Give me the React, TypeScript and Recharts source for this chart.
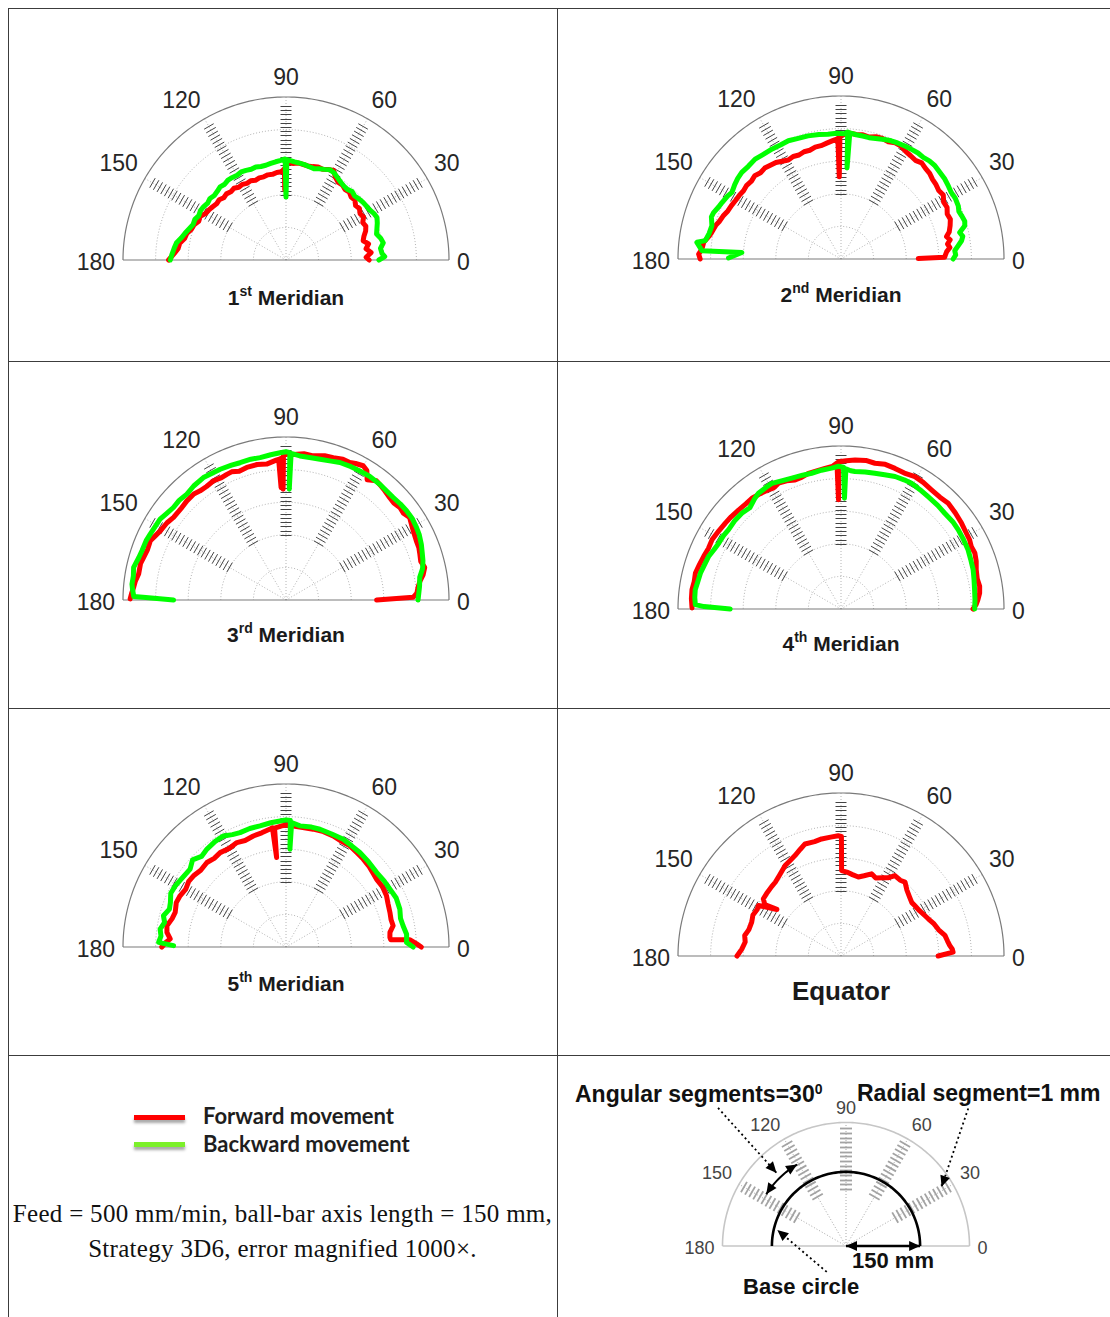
import React from "react";
import { ScatterChart, Scatter, XAxis, YAxis } from "recharts";

// every trace point is [angle in degrees, radius in ring units]; the outer ring is 5
type Polar = [number, number];

const angleTicks = [0, 30, 60, 90, 120, 150, 180];
const tickSpokes = [30, 60, 90, 120, 150];
const ringRadii = [1, 2, 3, 4];
const outerRadius = 5;
const baseCircleRadius = 3;

const meridian1Forward: Polar[] = [
  [180, 3.6], [177, 3.45], [174, 3.33], [171, 3.3], [168, 3.18], [165, 3.15], [162, 3.05],
  [159, 3.02], [156, 2.93], [153, 2.95], [150, 2.85], [147, 2.82], [144, 2.78], [141, 2.74],
  [138, 2.76], [135, 2.7], [132, 2.73], [129, 2.69], [126, 2.72], [123, 2.66], [120, 2.68],
  [117, 2.64], [114, 2.66], [111, 2.62], [108, 2.65], [105, 2.64], [102, 2.67], [99, 2.66],
  [96, 2.7], [93, 2.71], [91, 2.8], [91, 2.15], [90.5, 2.8], [89, 3.0], [86, 2.97], [83, 3.0],
  [80, 2.98], [77, 2.96], [74, 2.98], [71, 3.02], [68, 3.0], [65, 3.06], [62, 3.11], [59, 2.95],
  [56, 2.87], [53, 2.88], [50, 2.82], [47, 2.85], [44, 2.78], [41, 2.8], [38, 2.71], [35, 2.75],
  [32, 2.68], [29, 2.72], [26, 2.62], [23, 2.66], [20, 2.6], [17, 2.5], [14, 2.44], [11, 2.58],
  [8, 2.48], [5, 2.62], [2, 2.46], [0, 2.55],
];
const meridian1Backward: Polar[] = [
  [180, 3.55], [177, 3.5], [174, 3.45], [171, 3.4], [168, 3.28], [165, 3.2], [162, 3.12],
  [159, 3.05], [156, 3.06], [153, 3.0], [150, 3.03], [147, 3.01], [144, 2.97], [141, 3.0],
  [138, 2.96], [135, 2.98], [132, 3.02], [129, 2.99], [126, 3.03], [123, 3.02], [120, 3.0],
  [117, 3.03], [114, 3.01], [111, 2.98], [108, 3.0], [105, 2.97], [102, 2.97], [99, 3.0],
  [96, 3.03], [93, 3.06], [90.5, 3.1], [90, 1.93], [89.5, 3.08], [88, 3.06], [85, 3.02],
  [82, 3.0], [79, 2.98], [76, 2.95], [73, 2.93], [70, 2.98], [67, 3.02], [64, 3.08], [61, 3.05],
  [58, 2.98], [55, 2.92], [52, 2.88], [49, 2.87], [46, 2.92], [43, 2.88], [40, 2.92], [37, 2.95],
  [34, 2.97], [31, 2.99], [28, 3.05], [25, 3.08], [22, 3.02], [19, 2.95], [16, 2.89], [13, 2.98],
  [10, 3.03], [7, 2.92], [4, 2.95], [2, 3.03], [0, 2.85],
];

const meridian2Forward: Polar[] = [
  [180, 4.32], [178, 4.37], [176, 4.28], [173, 4.24], [170, 4.1], [168, 4.04], [165, 3.98],
  [163, 3.91], [160, 3.85], [157, 3.77], [154, 3.74], [151, 3.7], [148, 3.68], [145, 3.65],
  [142, 3.67], [139, 3.64], [136, 3.68], [133, 3.62], [130, 3.64], [127, 3.6], [124, 3.57],
  [121, 3.5], [118, 3.44], [115, 3.47], [112, 3.44], [109, 3.48], [106, 3.47], [103, 3.52],
  [100, 3.53], [97, 3.58], [94, 3.64], [92, 3.68], [91.5, 3.7], [91.2, 2.52], [90.5, 3.75],
  [88, 3.84], [86, 3.87], [83, 3.85], [80, 3.87], [77, 3.84], [74, 3.9], [71, 3.91], [68, 3.88],
  [65, 3.93], [62, 3.92], [59, 3.85], [56, 3.82], [53, 3.79], [50, 3.85], [47, 3.8], [44, 3.78],
  [41, 3.72], [38, 3.7], [35, 3.66], [32, 3.7], [29, 3.6], [26, 3.62], [23, 3.54], [20, 3.57],
  [17, 3.5], [14, 3.42], [12, 3.31], [10, 3.4], [8, 3.3], [6, 3.36], [4, 3.25], [2, 3.2],
  [1, 3.18], [0.3, 2.37],
];
const meridian2Backward: Polar[] = [
  [179.5, 3.45], [176.2, 3.05], [176.6, 4.27], [173.4, 4.45], [172.3, 4.2], [169, 4.12],
  [165.5, 4.09], [162, 4.18], [160, 4.16], [157, 4.08], [154.6, 4.04], [151, 3.98], [148.6, 3.92],
  [145, 3.98], [142, 4.02], [138.9, 4.04], [135, 4.02], [130.7, 4.04], [127, 4.0], [122, 3.98],
  [118, 3.96], [114, 3.97], [110, 3.93], [105, 3.91], [100, 3.88], [96, 3.85], [92, 3.86],
  [88.5, 3.84], [87, 3.9], [86.2, 2.8], [86, 3.88], [83, 3.84], [80, 3.83], [77, 3.82], [73, 3.86],
  [70, 3.9], [67, 3.94], [64, 3.96], [60.5, 3.98], [57, 4.0], [54, 4.02], [51, 4.01], [48, 4.05],
  [44.8, 4.06], [41, 4.03], [37.6, 4.02], [34, 3.98], [31, 3.95], [28, 3.97], [24.4, 3.95],
  [22, 3.9], [19.8, 3.93], [17, 3.97], [15, 3.93], [12.6, 3.73], [10.5, 3.8], [8.6, 3.74],
  [6.5, 3.62], [4.2, 3.5], [2, 3.52], [0, 3.44],
];

const meridian3Forward: Polar[] = [
  [0, 2.78], [1.2, 3.9], [3, 4.02], [5.5, 4.07], [8, 4.15], [10.5, 4.28], [13.2, 4.37], [16, 4.3],
  [18.9, 4.34], [21.5, 4.38], [24.4, 4.39], [27, 4.42], [30, 4.47], [33.7, 4.56], [36.5, 4.48],
  [39.1, 4.5], [42, 4.45], [44.6, 4.47], [48, 4.52], [50, 4.55], [52.8, 4.59], [56, 4.45],
  [58, 4.68], [60.1, 4.75], [63, 4.7], [65.1, 4.65], [68, 4.66], [71.6, 4.6], [75, 4.58],
  [79.3, 4.5], [83, 4.52], [87.1, 4.47], [89, 4.48], [91, 4.45], [91.5, 3.4], [92, 4.35],
  [92.5, 3.45], [93, 4.32], [94, 4.3], [98.1, 4.21], [102, 4.25], [106.5, 4.24], [110, 4.2],
  [113, 4.27], [115.2, 4.26], [118, 4.24], [121.3, 4.28], [125, 4.25], [128.2, 4.26], [131, 4.31],
  [135, 4.3], [139, 4.27], [143.7, 4.28], [147, 4.35], [151.2, 4.4], [154, 4.47], [156.4, 4.54],
  [160, 4.52], [163.4, 4.56], [166, 4.6], [170, 4.59], [173, 4.66], [175.3, 4.69], [177.5, 4.74],
  [179.6, 4.78],
];
const meridian3Backward: Polar[] = [
  [180, 3.45], [179, 4.3], [178.7, 4.67], [176, 4.72], [174.1, 4.75], [171, 4.74], [167.9, 4.78],
  [164, 4.7], [161.1, 4.67], [157, 4.66], [154.1, 4.63], [150, 4.6], [147.3, 4.59], [144, 4.52],
  [140.6, 4.47], [137, 4.48], [133.1, 4.45], [129, 4.5], [124, 4.53], [120, 4.5], [116.7, 4.49],
  [112, 4.46], [108.5, 4.44], [104, 4.45], [100.3, 4.44], [96, 4.48], [92.3, 4.52], [90, 4.55],
  [88.5, 4.52], [88.3, 3.4], [88, 4.5], [84.5, 4.44], [80, 4.43], [76.4, 4.44], [72, 4.48],
  [68.6, 4.53], [64, 4.55], [60.2, 4.56], [56, 4.58], [51, 4.57], [47, 4.55], [43.7, 4.55],
  [40, 4.58], [36.5, 4.6], [33, 4.61], [29.1, 4.58], [26, 4.55], [22.4, 4.49], [19, 4.42],
  [16, 4.37], [13, 4.3], [9.6, 4.16], [6, 4.12], [3, 4.08], [0, 4.05],
];

const meridian4Forward: Polar[] = [
  [0, 4.05], [2, 4.15], [3.9, 4.21], [6.5, 4.28], [9.3, 4.31], [12.5, 4.28], [16.2, 4.32],
  [19.5, 4.4], [22.7, 4.45], [25.5, 4.43], [28.3, 4.48], [32, 4.5], [35.5, 4.54], [40, 4.58],
  [44.6, 4.62], [48.5, 4.58], [52.8, 4.59], [57, 4.63], [60.8, 4.65], [65, 4.6], [69, 4.62],
  [73, 4.64], [76.9, 4.59], [80.5, 4.62], [84.6, 4.59], [88, 4.55], [91, 4.52], [91.3, 3.35],
  [91.6, 4.48], [93.5, 4.38], [96.5, 4.34], [100, 4.3], [103.5, 4.28], [106.5, 4.22], [109.6, 4.2],
  [113, 4.27], [116.4, 4.31], [119, 4.25], [121.3, 4.28], [125, 4.32], [128.8, 4.36], [132, 4.35],
  [136, 4.37], [140, 4.4], [143.4, 4.42], [147.5, 4.45], [151.8, 4.49], [155.5, 4.47], [159, 4.51],
  [162.5, 4.55], [166.1, 4.6], [169.5, 4.58], [172.6, 4.61], [176, 4.6], [179.6, 4.57],
];
const meridian4Backward: Polar[] = [
  [180, 3.4], [179, 4.2], [178.3, 4.47], [175.5, 4.5], [172.5, 4.51], [169, 4.47], [165.7, 4.45],
  [162, 4.4], [158.3, 4.37], [155, 4.3], [151.7, 4.26], [148, 4.25], [144.8, 4.22], [140, 4.24],
  [136, 4.23], [132, 4.18], [128, 4.3], [125.5, 4.36], [122, 4.38], [118.8, 4.4], [114.5, 4.33],
  [110.6, 4.29], [106, 4.27], [102.2, 4.26], [98, 4.3], [93.8, 4.33], [91, 4.38], [89, 4.35],
  [88.2, 3.4], [88, 4.3], [86, 4.25], [84.2, 4.24], [80, 4.27], [76, 4.29], [72, 4.33], [67.8, 4.39],
  [64, 4.41], [60.7, 4.42], [56.5, 4.39], [52.2, 4.36], [47, 4.35], [42.7, 4.33], [38, 4.35],
  [34, 4.34], [29.5, 4.32], [25, 4.3], [21, 4.26], [16.6, 4.23], [12.5, 4.18], [8.2, 4.14],
  [4, 4.12], [0, 4.1],
];

const meridian5Forward: Polar[] = [
  [180, 3.81], [178, 3.7], [176, 3.56], [173, 3.68], [169.9, 3.71], [166, 3.6], [162.7, 3.56],
  [158, 3.63], [154.2, 3.61], [150, 3.55], [146, 3.6], [142.4, 3.58], [138, 3.52], [133.1, 3.55],
  [129, 3.5], [124.9, 3.53], [120, 3.49], [115.2, 3.54], [111, 3.5], [106.4, 3.55], [102, 3.58],
  [97.7, 3.65], [96.5, 3.68], [96, 2.76], [95.5, 3.66], [92, 3.72], [89, 3.74], [86.5, 3.72],
  [82, 3.7], [77, 3.71], [72, 3.72], [67, 3.7], [62, 3.66], [57.7, 3.67], [53, 3.62], [48.7, 3.59],
  [44, 3.55], [40, 3.5], [36.9, 3.47], [32, 3.49], [27, 3.46], [23, 3.4], [18.4, 3.36],
  [14.5, 3.33], [11.2, 3.35], [8, 3.22], [5.3, 3.2], [4, 3.22], [3.4, 3.8], [1.5, 4.0], [0, 4.15],
];
const meridian5Backward: Polar[] = [
  [179.3, 3.45], [177.9, 3.91], [175, 3.85], [171.9, 3.9], [168.5, 3.8], [165.7, 3.88], [162, 3.76],
  [158.9, 3.8], [155, 3.9], [151.1, 3.88], [146, 3.82], [140.9, 3.79], [137, 3.92], [133, 3.8],
  [128.9, 3.86], [124, 3.9], [119.4, 3.91], [115.5, 3.82], [111.9, 3.78], [107, 3.8], [102.1, 3.8],
  [97, 3.84], [92.7, 3.87], [90, 3.9], [88, 3.88], [87.7, 3.0], [87.4, 3.82], [83.4, 3.74],
  [78, 3.76], [73.9, 3.76], [68, 3.74], [62, 3.74], [57, 3.7], [52, 3.68], [46, 3.64], [39.5, 3.6],
  [34, 3.63], [29.1, 3.65], [24, 3.7], [18.4, 3.68], [14, 3.62], [10.3, 3.65], [6, 3.72],
  [2.2, 3.7], [0, 3.9],
];

const equatorForward: Polar[] = [
  [180, 3.19], [176, 3.05], [171.7, 2.97], [168, 3.02], [164, 2.94], [159.2, 2.93], [155, 2.98],
  [151, 2.94], [148.5, 2.97], [144, 2.43], [146, 2.82], [143.6, 2.96], [140, 2.98], [135, 3.01],
  [131.7, 3.03], [127, 3.12], [121.7, 3.26], [118, 3.32], [114.6, 3.39], [111, 3.5], [107.8, 3.61],
  [103, 3.6], [99.4, 3.64], [95, 3.66], [91.3, 3.69], [89.8, 3.67], [89.6, 2.62], [86, 2.58],
  [82, 2.52], [77.6, 2.48], [74, 2.56], [69.6, 2.69], [66, 2.62], [62, 2.72], [59, 2.8],
  [56.2, 2.97], [52, 2.95], [49.1, 3.0], [45, 2.86], [41, 2.78], [37, 2.72], [34.4, 2.74],
  [30, 2.78], [26, 2.85], [23.1, 2.91], [19, 3.02], [15, 3.1], [11.2, 3.25], [8, 3.3], [5.6, 3.35],
  [3.5, 3.42], [2, 3.44], [0, 2.98],
];

// annotation pointers of the legend diagram, [x, y] in ring units
const angularPointer: [number, number][] = [[-5.18, 5.59], [-2.81, 2.96]];
const radialPointer: [number, number][] = [[4.95, 5.57], [3.87, 2.4]];
const basePointer: [number, number][] = [[-0.78, -1.05], [-2.78, 0.65]];
const radiusArrow: [number, number][] = [[0, 0], [3, 0]];
const angularArc = { radius: 3.85, from: 147, to: 121 };

const FWD = "#ff0000";
const BWD = "#00ff00";
const SANS = '"Liberation Sans", Arial, Helvetica, sans-serif';

const rad = (a: number) => (a * Math.PI) / 180;
const toXY = (pts: Polar[]) =>
  pts.map(([a, r]) => ({ x: r * Math.cos(rad(a)), y: r * Math.sin(rad(a)), a }));
const arcPts = (r: number, from: number, to: number, step = 2) => {
  const out: Polar[] = [];
  const s = from < to ? step : -step;
  for (let a = from; s > 0 ? a <= to : a >= to; a += s) out.push([a, r]);
  return toXY(out);
};
const headsOf = (pts: { x: number; y: number }[], both: boolean) => {
  const n = pts.length;
  const dir = (p: any, q: any) => Math.atan2(-(q.y - p.y), q.x - p.x);
  const list = [{ x: pts[n - 1].x, y: pts[n - 1].y, dir: dir(pts[n - 2], pts[n - 1]) }];
  if (both) list.push({ x: pts[0].x, y: pts[0].y, dir: dir(pts[1], pts[0]) });
  return list;
};

const Nothing = () => <g />;

const ArrowHead = (p: any) => {
  const d = p.payload.dir;
  const L = 11;
  const w = 5;
  const bx = p.cx - L * Math.cos(d);
  const by = p.cy - L * Math.sin(d);
  const nx = -Math.sin(d) * w;
  const ny = Math.cos(d) * w;
  return (
    <polygon
      points={`${p.cx},${p.cy} ${bx + nx},${by + ny} ${bx - nx},${by - ny}`}
      fill="#000"
    />
  );
};

type Variant = {
  tickRadii: number[];
  tickStroke: string;
  tickWidth: number;
  tickHalf: number;
  labelSize: number;
  labelColor: string;
  labelLift: number;
  ringStroke: string | null;
  outerStroke: string;
  outerWidth: number;
  spokeStroke: string;
};

const mainVariant: Variant = {
  tickRadii: Array.from({ length: 22 }, (_, i) => 2 + i * 0.13),
  tickStroke: "#444",
  tickWidth: 1,
  tickHalf: 5.5,
  labelSize: 23,
  labelColor: "#262626",
  labelLift: 4,
  ringStroke: "#b4b4b4",
  outerStroke: "#7a7a7a",
  outerWidth: 1.2,
  spokeStroke: "#b4b4b4",
};

const diagramVariant: Variant = {
  tickRadii: Array.from({ length: 14 }, (_, i) => 2.3 + i * 0.19),
  tickStroke: "#a3a3a3",
  tickWidth: 1.8,
  tickHalf: 6,
  labelSize: 18,
  labelColor: "#444",
  labelLift: 1,
  ringStroke: null,
  outerStroke: "#c6c6c6",
  outerWidth: 1.6,
  spokeStroke: "#a8a8a8",
};

type Trace = { key: string; data: Polar[]; color: string };

type PanelProps = {
  cx: number;
  cy: number;
  R: number;
  variant: Variant;
  traces: Trace[];
  extras?: React.ReactNode;
};

function PolarPanel({ cx, cy, R, variant, traces, extras }: PanelProps) {
  const W = 520;
  const H = 250;
  const bottom = 45;
  const u = R / outerRadius;
  const v = variant;

  const tickData = tickSpokes.flatMap((a) =>
    v.tickRadii.map((r) => ({ x: r * Math.cos(rad(a)), y: r * Math.sin(rad(a)), a }))
  );
  const labelR = outerRadius + 8 / u;
  const labelData = angleTicks.map((a) => ({
    x: labelR * Math.cos(rad(a)),
    y: labelR * Math.sin(rad(a)),
    a,
  }));

  const TickShape = (p: any) => {
    const t = rad(p.payload.a);
    const dx = -Math.sin(t) * v.tickHalf;
    const dy = -Math.cos(t) * v.tickHalf;
    // keep horizontal dashes on the pixel grid so they stay crisp
    const y0 = p.payload.a === 90 ? Math.round(p.cy) + 0.5 : p.cy;
    return (
      <line
        x1={p.cx - dx}
        y1={y0 - dy}
        x2={p.cx + dx}
        y2={y0 + dy}
        stroke={v.tickStroke}
        strokeWidth={v.tickWidth}
      />
    );
  };

  const LabelShape = (p: any) => {
    const a = p.payload.a;
    const anchor = a === 90 ? "middle" : a < 90 ? "start" : "end";
    const flat = a === 0 || a === 180;
    return (
      <text
        x={p.cx}
        y={flat ? p.cy + 2 : p.cy - v.labelLift}
        dy={flat ? "0.36em" : 0}
        textAnchor={anchor}
        fontSize={v.labelSize}
        fontFamily={SANS}
        fill={v.labelColor}
      >
        {a}
      </text>
    );
  };

  return (
    <div style={{ position: "absolute", left: cx - W / 2, top: cy - (H - bottom) }}>
      <ScatterChart width={W} height={H} margin={{ top: 0, right: 0, bottom: 0, left: 0 }}>
        <XAxis type="number" dataKey="x" domain={[-(W / 2) / u, W / 2 / u]} hide />
        <YAxis type="number" dataKey="y" domain={[-bottom / u, (H - bottom) / u]} hide />
        {v.ringStroke &&
          ringRadii.map((r) => (
            <Scatter
              key={`ring${r}`}
              data={arcPts(r, 0, 180)}
              fill={v.ringStroke as string}
              line={{ strokeWidth: 1, strokeDasharray: "1 2" }}
              shape={Nothing}
              isAnimationActive={false}
            />
          ))}
        {tickSpokes.map((a) => (
          <Scatter
            key={`spoke${a}`}
            data={toXY([[a, 0], [a, outerRadius]])}
            fill={v.spokeStroke}
            line={{ strokeWidth: 1, strokeDasharray: "1 2" }}
            shape={Nothing}
            isAnimationActive={false}
          />
        ))}
        <Scatter
          data={toXY([[180, outerRadius], [0, 0], [0, outerRadius]])}
          fill={v.outerStroke}
          line={{ strokeWidth: v.outerWidth }}
          shape={Nothing}
          isAnimationActive={false}
        />
        <Scatter
          data={arcPts(outerRadius, 0, 180, 1)}
          fill={v.outerStroke}
          line={{ strokeWidth: v.outerWidth }}
          shape={Nothing}
          isAnimationActive={false}
        />
        <Scatter data={tickData} fill={v.tickStroke} shape={TickShape} isAnimationActive={false} />
        <Scatter data={labelData} fill={v.labelColor} shape={LabelShape} isAnimationActive={false} />
        {traces.map((t) => (
          <Scatter
            key={t.key}
            name={t.key}
            data={toXY(t.data)}
            fill={t.color}
            line={{ strokeWidth: 5, strokeLinejoin: "round", strokeLinecap: "round" }}
            shape={Nothing}
            isAnimationActive={false}
          />
        ))}
        {extras}
      </ScatterChart>
    </div>
  );
}

const R = 163;
const panels = [
  { cx: 286, cy: 260, fwd: meridian1Forward, bwd: meridian1Backward, n: "1", sup: "st", dy: 45 },
  { cx: 841, cy: 259, fwd: meridian2Forward, bwd: meridian2Backward, n: "2", sup: "nd", dy: 43 },
  { cx: 286, cy: 599.5, fwd: meridian3Forward, bwd: meridian3Backward, n: "3", sup: "rd", dy: 42 },
  { cx: 841, cy: 609, fwd: meridian4Forward, bwd: meridian4Backward, n: "4", sup: "th", dy: 42 },
  { cx: 286, cy: 946.5, fwd: meridian5Forward, bwd: meridian5Backward, n: "5", sup: "th", dy: 44 },
];

const line = (style: React.CSSProperties) => (
  <div style={{ position: "absolute", background: "#3c3c3c", ...style }} />
);

function DiagramExtras() {
  const arc = arcPts(angularArc.radius, angularArc.from, angularArc.to);
  const ang = angularPointer.map(([x, y]) => ({ x, y }));
  const radp = radialPointer.map(([x, y]) => ({ x, y }));
  const base = basePointer.map(([x, y]) => ({ x, y }));
  const radius = radiusArrow.map(([x, y]) => ({ x, y }));
  const heads = [
    ...headsOf(arc, true),
    ...headsOf(ang, false),
    ...headsOf(radp, false),
    ...headsOf(base, false),
    ...headsOf(radius, true),
  ];
  const dotted = { strokeWidth: 1.8, strokeDasharray: "2 3" };
  return [
    <Scatter key="base" data={arcPts(baseCircleRadius, 0, 180)} fill="#000" line={{ strokeWidth: 2.6 }} shape={Nothing} isAnimationActive={false} />,
    <Scatter key="arc" data={arc} fill="#000" line={{ strokeWidth: 2 }} shape={Nothing} isAnimationActive={false} />,
    <Scatter key="ang" data={ang} fill="#000" line={dotted} shape={Nothing} isAnimationActive={false} />,
    <Scatter key="radp" data={radp} fill="#000" line={dotted} shape={Nothing} isAnimationActive={false} />,
    <Scatter key="basep" data={base} fill="#000" line={dotted} shape={Nothing} isAnimationActive={false} />,
    <Scatter key="radius" data={radius} fill="#000" line={{ strokeWidth: 2.4 }} shape={Nothing} isAnimationActive={false} />,
    <Scatter key="heads" data={heads} fill="#000" shape={ArrowHead} isAnimationActive={false} />,
  ];
}

const boldText = (text: React.ReactNode, left: number, top: number, size = 22): React.ReactNode => (
  <div
    style={{
      position: "absolute",
      left,
      top,
      fontFamily: SANS,
      fontWeight: "bold",
      fontSize: size,
      lineHeight: 1,
      color: "#111",
      whiteSpace: "nowrap",
    }}
  >
    {text}
  </div>
);

const legendText: React.CSSProperties = {
  position: "absolute",
  left: 203,
  fontFamily: "Lato, sans-serif",
  fontWeight: "bold",
  fontSize: 22,
  lineHeight: 1,
  color: "#1e1e1e",
  whiteSpace: "nowrap",
};

export default function App() {
  return (
    <div style={{ position: "absolute", left: 0, top: 0, width: 1110, height: 1317, background: "#fff" }}>
      {line({ left: 8, top: 8, width: 1102, height: 1 })}
      {line({ left: 8, top: 361, width: 1102, height: 1 })}
      {line({ left: 8, top: 708, width: 1102, height: 1 })}
      {line({ left: 8, top: 1055, width: 1102, height: 1 })}
      {line({ left: 8, top: 8, width: 1, height: 1309 })}
      {line({ left: 557, top: 8, width: 1, height: 1309 })}

      {panels.map((p) => (
        <React.Fragment key={p.n}>
          <PolarPanel
            cx={p.cx}
            cy={p.cy}
            R={R}
            variant={mainVariant}
            traces={[
              { key: "Forward movement", data: p.fwd, color: FWD },
              { key: "Backward movement", data: p.bwd, color: BWD },
            ]}
          />
          <div
            style={{
              position: "absolute",
              left: p.cx - 150,
              width: 300,
              top: p.cy + p.dy - 18,
              textAlign: "center",
              fontFamily: SANS,
              fontWeight: "bold",
              fontSize: 21,
              lineHeight: 1,
              color: "#1a1a1a",
            }}
          >
            {p.n}
            <sup style={{ fontSize: 14, verticalAlign: 0, position: "relative", top: -9 }}>{p.sup}</sup>{" "}
            Meridian
          </div>
        </React.Fragment>
      ))}

      <PolarPanel
        cx={841}
        cy={956}
        R={R}
        variant={mainVariant}
        traces={[{ key: "Forward movement", data: equatorForward, color: FWD }]}
      />
      <div
        style={{
          position: "absolute",
          left: 691,
          width: 300,
          top: 978,
          textAlign: "center",
          fontFamily: SANS,
          fontWeight: "bold",
          fontSize: 26,
          lineHeight: 1,
          color: "#1a1a1a",
        }}
      >
        Equator
      </div>

      {/* legend cell */}
      <div style={{ position: "absolute", left: 134, top: 1114.5, width: 51, height: 5, background: FWD, boxShadow: "0 3px 3px rgba(0,0,0,0.35)" }} />
      <div style={{ position: "absolute", left: 134, top: 1142, width: 51, height: 5, background: "#7cf02a", boxShadow: "0 3px 3px rgba(0,0,0,0.35)" }} />
      <div style={{ ...legendText, top: 1105 }}>Forward movement</div>
      <div style={{ ...legendText, top: 1133 }}>Backward movement</div>
      <div
        style={{
          position: "absolute",
          left: 8,
          width: 549,
          top: 1196,
          textAlign: "center",
          fontFamily: '"Liberation Serif", "DejaVu Serif", serif',
          fontSize: 25,
          letterSpacing: 0.3,
          lineHeight: "35px",
          color: "#111",
        }}
      >
        Feed = 500 mm/min, ball-bar axis length = 150 mm,
        <br />
        Strategy 3D6, error magnified 1000×.
      </div>

      {/* explanatory diagram */}
      <PolarPanel cx={846} cy={1246} R={123.5} variant={diagramVariant} traces={[]} extras={DiagramExtras()} />
      {boldText(<>Angular segments=30<sup style={{ fontSize: 14, verticalAlign: 0, position: "relative", top: -8 }}>0</sup></>, 575, 1083, 23)}
      {boldText("Radial segment=1 mm", 857, 1082, 23)}
      {boldText("150 mm", 852, 1250)}
      {boldText("Base circle", 743, 1276)}
    </div>
  );
}
